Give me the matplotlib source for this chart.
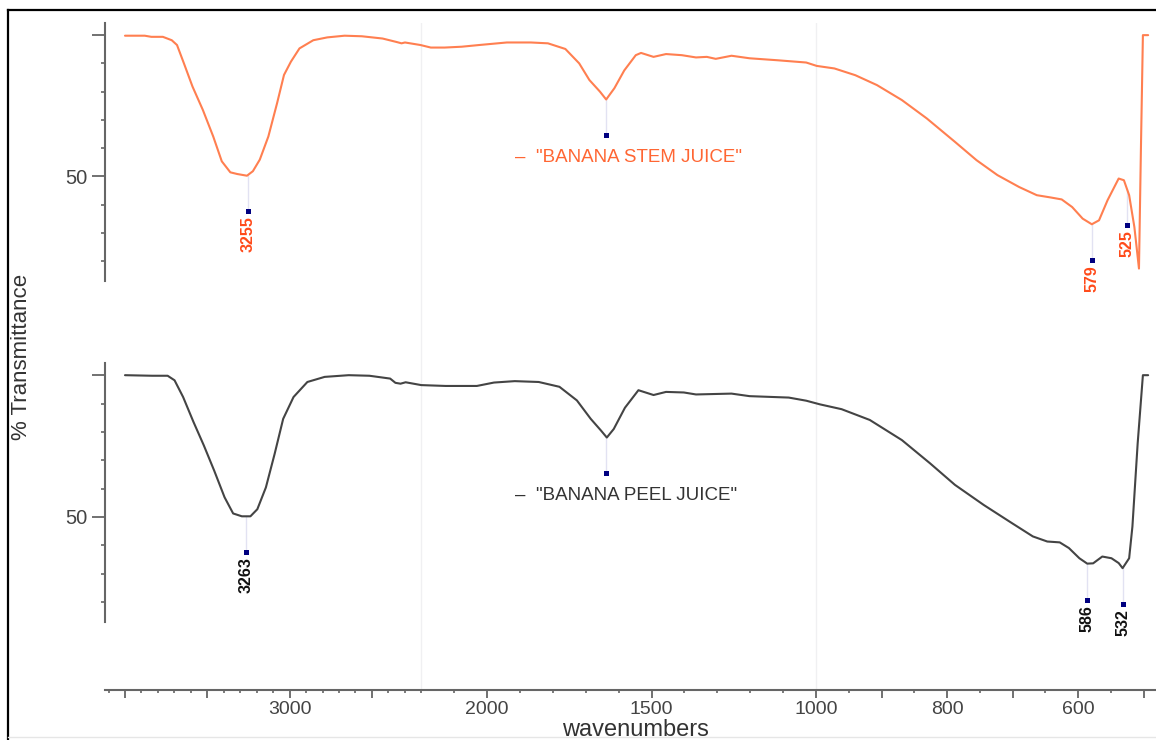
import numpy as np
import matplotlib
matplotlib.use("Agg")
import matplotlib.pyplot as plt
from matplotlib.lines import Line2D
from matplotlib.ticker import FixedLocator, FixedFormatter, NullFormatter
from matplotlib import font_manager

# ---------------- data ----------------
stem_wn = [4000, 3880, 3840, 3770, 3716, 3684, 3642, 3590, 3527, 3464, 3412, 3360, 3318,
           3259, 3223, 3181, 3129, 3076, 3034, 2992, 2940, 2856, 2771, 2666, 2561, 2435,
           2352, 2320, 2299, 2205, 2171, 2129, 2077, 2024, 1940, 1867, 1815, 1762, 1720,
           1689, 1657, 1638, 1613, 1583, 1548, 1532, 1494, 1456, 1408, 1365, 1332, 1305,
           1257, 1202, 1117, 1030, 999, 972, 940, 907, 869, 831, 788, 755, 723, 690, 663,
           642, 625, 609, 593, 579, 568, 555, 538, 530, 522, 514, 507, 504, 501, 493]
stem_T = [99.8, 99.8, 99.4, 99.4, 98.2, 96.5, 90.0, 81.8, 73.5, 64.1, 55.3, 51.4, 50.8,
          50.2, 51.8, 55.9, 64.1, 75.9, 85.9, 90.6, 95.3, 98.2, 99.2, 99.8, 99.6, 98.8,
          97.6, 97.1, 97.4, 96.5, 95.6, 95.6, 95.9, 96.5, 97.4, 97.4, 97.1, 95.1, 90.0,
          84.1, 80.0, 77.2, 81.2, 87.5, 92.9, 93.7, 92.3, 93.3, 92.9, 92.1, 92.3, 91.6,
          92.7, 91.8, 91.1, 90.3, 89.1, 88.2, 85.8, 82.3, 77.0, 70.5, 62.2, 55.7, 50.4,
          46.2, 43.3, 42.5, 41.8, 39.1, 35.0, 33.0, 34.4, 41.5, 49.2, 48.6, 43.3, 32.0,
          17.3, 60.0, 100.0, 100.0]

peel_wn = [4000, 3835, 3741, 3699, 3647, 3584, 3521, 3458, 3395, 3343, 3290, 3238, 3196,
           3144, 3091, 3039, 2976, 2892, 2787, 2641, 2515, 2389, 2357, 2326, 2295, 2200,
           2126, 2031, 1979, 1916, 1843, 1780, 1727, 1685, 1654, 1636, 1615, 1581, 1540,
           1494, 1456, 1402, 1365, 1257, 1202, 1083, 1030, 994, 961, 918, 869, 826, 788,
           744, 701, 669, 647, 628, 614, 598, 586, 577, 563, 549, 538, 532, 522, 517, 509,
           501, 493]
peel_T = [100.0, 99.8, 99.8, 98.2, 92.3, 83.5, 75.2, 66.3, 56.9, 51.2, 50.2, 50.2, 52.7,
          60.4, 72.2, 84.6, 92.3, 97.6, 99.4, 100.0, 99.8, 98.8, 97.3, 97.0, 97.5, 96.5,
          96.2, 96.2, 97.4, 97.9, 97.6, 95.9, 91.1, 84.6, 80.5, 78.0, 81.0, 88.5, 94.7,
          93.0, 94.1, 93.9, 93.2, 93.5, 92.6, 92.1, 91.0, 89.7, 88.0, 84.2, 77.1, 68.9,
          61.3, 54.2, 47.8, 43.1, 41.3, 41.0, 39.0, 35.4, 33.5, 33.6, 36.0, 35.4, 33.7,
          31.9, 35.4, 46.6, 75.9, 100.0, 100.0]

stem_peaks = [3255, 1638, 579, 525]
stem_peak_labels = ["3255", "", "579", "525"]
peel_peaks = [3263, 1638, 586, 532]
peel_peak_labels = ["3263", "", "586", "532"]

stem_name = '\u2013  "BANANA STEM JUICE"'
peel_name = '\u2013  "BANANA PEEL JUICE"'

x_major = [4000, 3500, 3000, 2500, 2000, 1500, 1000, 900, 800, 700, 600, 500]
x_major_labels = ["", "", "3000", "", "2000", "1500", "1000", "", "800", "", "600", ""]
x_minor = list(range(4100, 2100, -100)) + list(range(2100, 1000, -100)) + [950, 850, 750, 650, 550]
y_major = [50, 100]
y_major_labels = ["50", ""]
y_minor = [20, 30, 40, 60, 70, 80, 90]
scale_breaks = [2200, 1000]

# ---------------- style ----------------
plt.rcParams['font.family'] = ['Liberation Sans', 'DejaVu Sans']

def has_font(name):
    try:
        font_manager.findfont(name, fallback_to_default=False)
        return True
    except Exception:
        return False

narrow = has_font('Liberation Sans Narrow')
peak_family = ['Liberation Sans Narrow', 'Liberation Sans'] if narrow else ['Liberation Sans']
peak_size = 13 if narrow else 11.5

STEM_C = '#ff7f50'
STEM_TXT = '#ff4a1a'
PEEL_C = '#444444'
AX_C = '#666666'

# piecewise-linear wavenumber scale (split-scale IR axis); increasing in w,
# axis is then inverted through the limits
B1, B2 = 2200.0, 1000.0
A1, A2, A3 = 0.1646, 0.329, 0.655
U0 = 125.0
U1 = U0 + (4000 - B1) * A1
U2 = U1 + (B1 - B2) * A2

def fwd(w):
    w = np.asarray(w, dtype=float)
    u = np.where(w >= B1, U0 + (4000 - w) * A1,
                 np.where(w >= B2, U1 + (B1 - w) * A2, U2 + (B2 - w) * A3))
    return -u

def inv(v):
    u = -np.asarray(v, dtype=float)
    return np.where(u <= U1, 4000 - (u - U0) / A1,
                    np.where(u <= U2, B1 - (u - U1) / A2, B2 - (u - U2) / A3))

W, H = 1156, 740
fig = plt.figure(figsize=(W / 100, H / 100), dpi=100)

def rect(x0, y0, x1, y1):
    return [x0 / W, 1 - y1 / H, (x1 - x0) / W, (y1 - y0) / H]

ax_x = fig.add_axes(rect(105, 23, 1156, 690))
ax_top = fig.add_axes(rect(105, 23, 1156, 281), sharex=ax_x)
ax_bot = fig.add_axes(rect(105, 363, 1156, 622), sharex=ax_x)

ax_x.set_xscale('function', functions=(fwd, inv))
ax_x.set_xlim(4121.5, 481)

# bottom wavenumber axis
for s in ['left', 'top', 'right']:
    ax_x.spines[s].set_visible(False)
ax_x.spines['bottom'].set_color(AX_C)
ax_x.spines['bottom'].set_linewidth(1.5)
ax_x.patch.set_visible(False)
ax_x.set_yticks([])
ax_x.set_ylim(0, 1)
ax_x.xaxis.set_major_locator(FixedLocator(x_major))
ax_x.xaxis.set_major_formatter(FixedFormatter(x_major_labels))
ax_x.xaxis.set_minor_locator(FixedLocator(x_minor))
ax_x.xaxis.set_minor_formatter(NullFormatter())
ax_x.tick_params(axis='x', which='major', direction='out', length=6, width=1.3,
                 color=AX_C, labelsize=14, labelcolor='#444444', pad=2)
ax_x.tick_params(axis='x', which='minor', direction='out', length=2.2, width=1.2, color=AX_C)
for b in scale_breaks:
    ax_x.axvline(b, color='#f0f0f2', lw=1, zorder=0)
ax_x.set_xlabel('wavenumbers', fontsize=17, color='#333333')
ax_x.xaxis.set_label_coords(0.505, -0.044)

def style_y(ax):
    for s in ['bottom', 'top', 'right']:
        ax.spines[s].set_visible(False)
    ax.spines['left'].set_color(AX_C)
    ax.spines['left'].set_linewidth(1.5)
    ax.patch.set_visible(False)
    ax.tick_params(axis='x', which='both', bottom=False, labelbottom=False)
    ax.set_ylim(12.9, 104.3)
    ax.yaxis.set_major_locator(FixedLocator(y_major))
    ax.yaxis.set_major_formatter(FixedFormatter(y_major_labels))
    ax.yaxis.set_minor_locator(FixedLocator(y_minor))
    ax.yaxis.set_minor_formatter(NullFormatter())
    ax.tick_params(axis='y', which='major', direction='out', length=9.5, width=1.3,
                   color=AX_C, labelsize=14.5, labelcolor='#444444', pad=3)
    ax.tick_params(axis='y', which='minor', direction='out', length=3, width=1.2, color=AX_C)

style_y(ax_top)
style_y(ax_bot)

def draw(ax, wn, T, color, peaks, labels, lab_color, name, name_color, name_y):
    ax.plot(wn, T, color=color, lw=1.5, zorder=3, solid_joinstyle='round',
            solid_capstyle='round')
    wa = np.asarray(wn, float)[::-1]
    ta = np.asarray(T, float)[::-1]
    for w, lab in zip(peaks, labels):
        tc = np.interp(w, wa, ta)
        mk = tc - 12.7
        ax.plot([w, w], [tc, mk], color='#e2e2f2', lw=1, zorder=1)
        ax.plot([w], [mk], marker='s', color='#000080', ms=3.6, mew=0, zorder=4)
        if lab:
            ax.text(w, mk - 1.8, lab, rotation=90, ha='center', va='top',
                    fontsize=peak_size, fontweight='bold', color=lab_color,
                    family=peak_family)
    ax.text(1915, name_y, name, color=name_color, fontsize=13.5, ha='left', va='center')

draw(ax_top, stem_wn, stem_T, STEM_C, stem_peaks, stem_peak_labels, STEM_TXT,
     stem_name, '#ff6633', 56.7)
draw(ax_bot, peel_wn, peel_T, PEEL_C, peel_peaks, peel_peak_labels, '#111111',
     peel_name, '#333333', 57.7)

fig.text(22 / W, 1 - 357 / H, '% Transmittance', rotation=90, ha='center', va='center',
         fontsize=16, color='#333333')

# outer frame
fig.add_artist(Line2D([8 / W, 8 / W], [0, 1 - 10 / H], color='black', lw=1.6,
                      transform=fig.transFigure))
fig.add_artist(Line2D([8 / W, 1], [1 - 10 / H, 1 - 10 / H], color='black', lw=1.6,
                      transform=fig.transFigure))
fig.add_artist(Line2D([8 / W, 1], [3 / H, 3 / H], color='#e6e6e6', lw=1,
                      transform=fig.transFigure))

fig.savefig('out.png', dpi=100)
